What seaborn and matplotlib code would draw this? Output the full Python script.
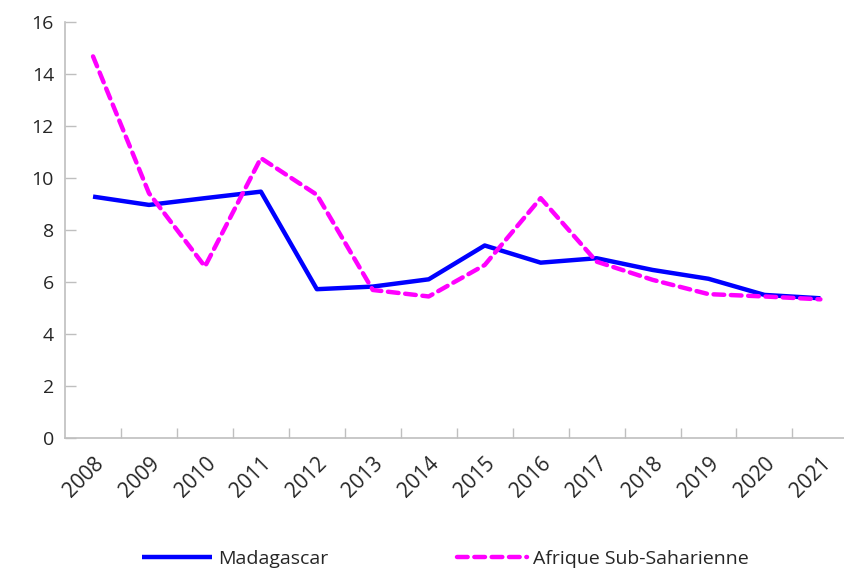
import matplotlib
matplotlib.use("Agg")
import matplotlib.pyplot as plt
import numpy as np
import pandas as pd
import seaborn as sns
from matplotlib.ticker import FixedLocator

years = list(range(2008, 2022))
madagascar = [9.28, 8.96, 9.22, 9.47, 5.72, 5.82, 6.10, 7.40, 6.74, 6.91, 6.46, 6.12, 5.50, 5.37]
afrique = [14.67, 9.41, 6.59, 10.76, 9.35, 5.69, 5.44, 6.65, 9.22, 6.78, 6.08, 5.53, 5.44, 5.33]
series_names = ["Madagascar", "Afrique Sub-Saharienne"]
y_ticks = [0, 2, 4, 6, 8, 10, 12, 14, 16]

df = pd.DataFrame({
    "annee": years * 2,
    "valeur": madagascar + afrique,
    "serie": [series_names[0]] * len(years) + [series_names[1]] * len(years),
})

sns.set_style("white")
plt.rcParams["font.family"] = ["Open Sans", "DejaVu Sans"]

fig = plt.figure(figsize=(8.45, 5.74), dpi=100)
ax = fig.add_axes([0.077, 0.237, 0.927, 0.725])

sns.lineplot(
    data=df, x="annee", y="valeur", hue="serie", style="serie",
    palette={series_names[0]: "#0000FF", series_names[1]: "#FF00FF"},
    dashes={series_names[0]: "", series_names[1]: (2.4, 1.5)},
    linewidth=3.2, ax=ax, legend=True,
)
for line in ax.get_lines():
    line.set_dash_capstyle("round")
    line.set_solid_capstyle("butt")

ax.set_xlim(years[0] - 0.5, years[-1] + 0.5)
ax.set_ylim(0, 16)
ax.set_yticks(y_ticks)
ax.set_xticks(years)
ax.set_xticklabels([str(y) for y in years], rotation=45, ha="right",
                   rotation_mode="anchor", fontsize=15)
ax.xaxis.set_minor_locator(FixedLocator([y + 0.5 for y in years[:-1]]))
ax.tick_params(axis="x", which="major", bottom=True, length=0, pad=11)
ax.tick_params(axis="x", which="minor", bottom=True, direction="in", length=7,
               color="#BFBFBF", width=1)
ax.tick_params(axis="y", left=True, direction="in", length=8, color="#BFBFBF",
               width=1, labelsize=14, pad=8)
ax.set_xlabel("")
ax.set_ylabel("")

for side in ["top", "right"]:
    ax.spines[side].set_visible(False)
for side in ["left", "bottom"]:
    ax.spines[side].set_color("#BFBFBF")
    ax.spines[side].set_linewidth(1.2)

handles, labels = ax.get_legend_handles_labels()
ax.get_legend().remove()
fig.legend(handles, labels, loc="center", bbox_to_anchor=(0.527, 0.026),
           ncol=2, frameon=False, fontsize=14, handlelength=3.6,
           handletextpad=0.3, columnspacing=6.6)

fig.savefig("out.png", dpi=100, facecolor="white")
